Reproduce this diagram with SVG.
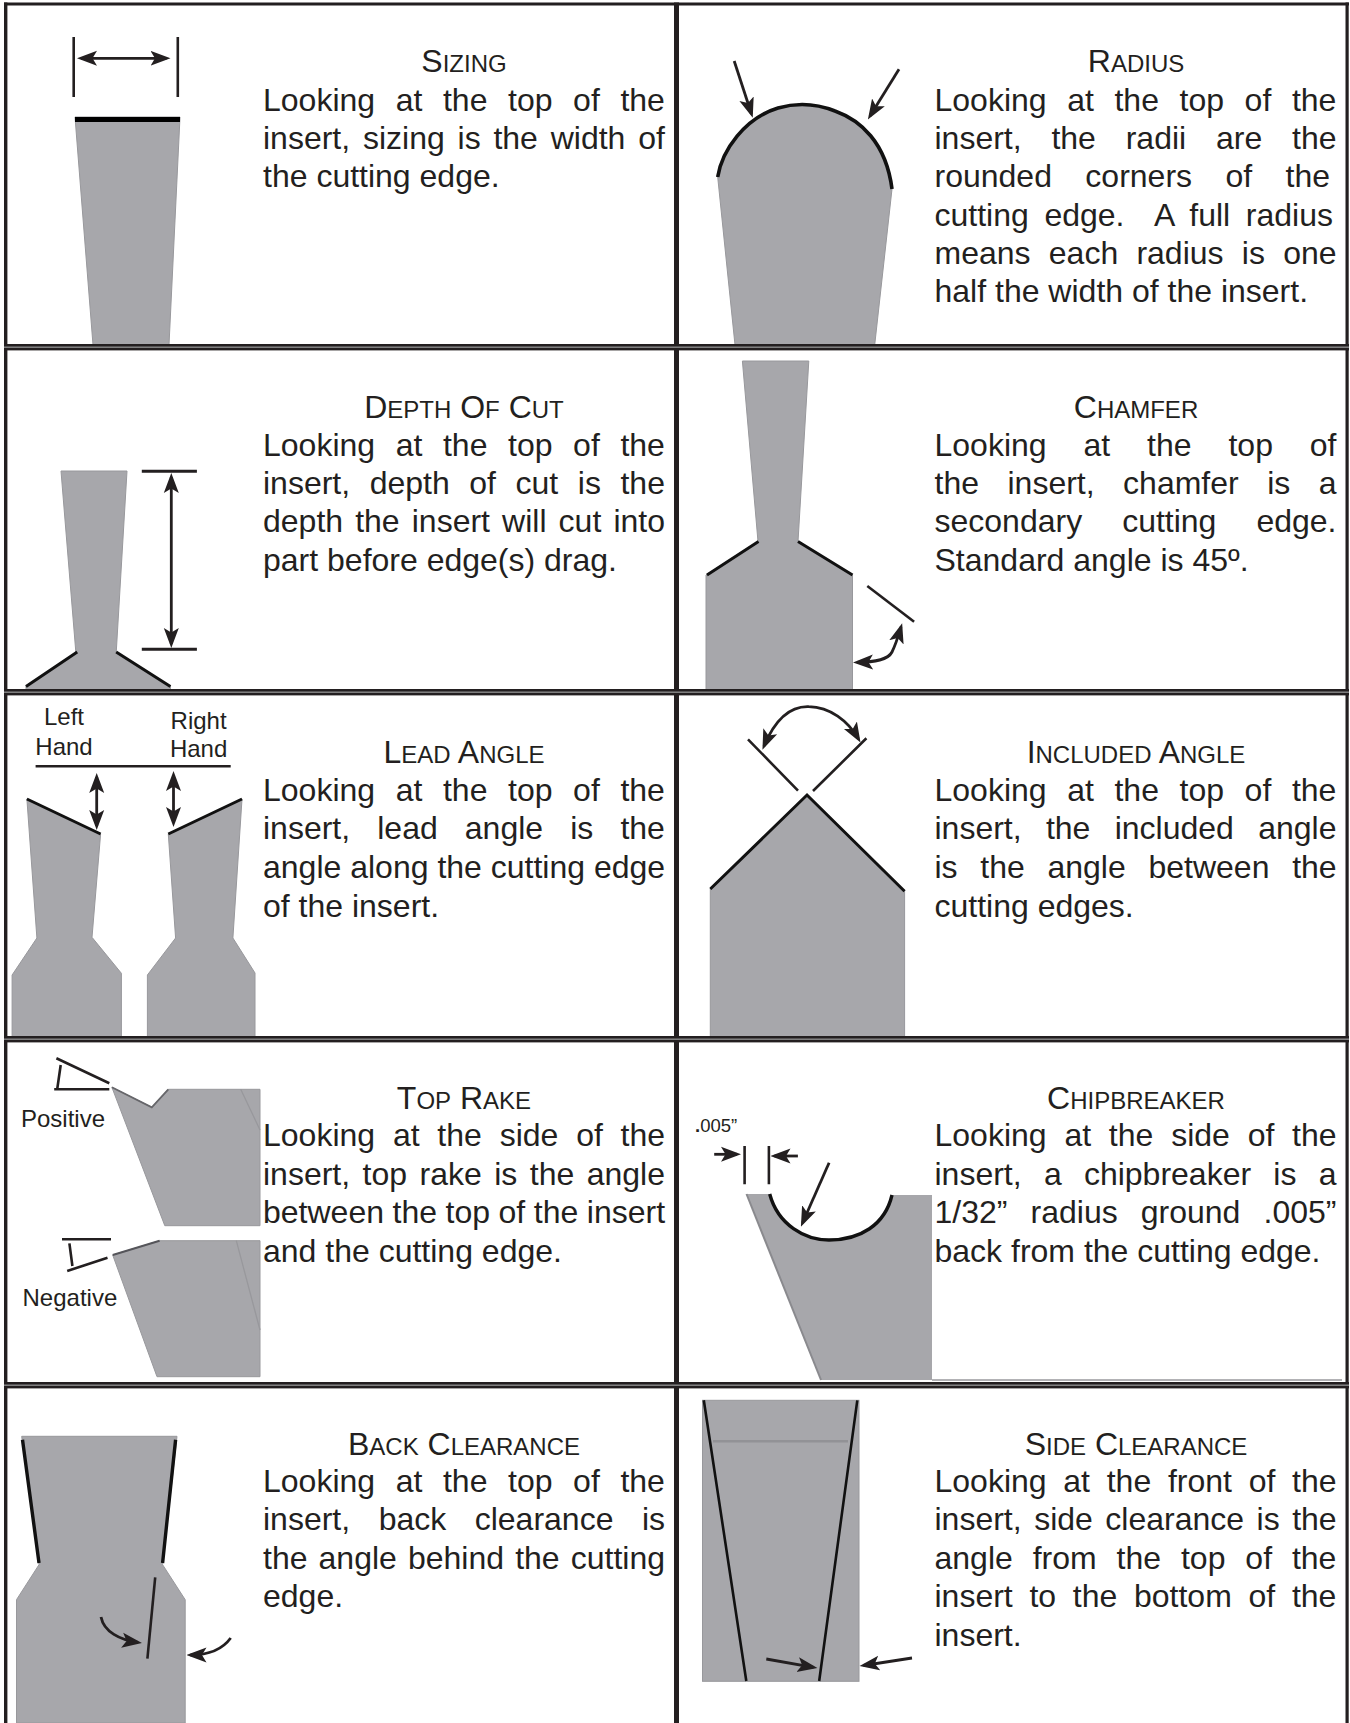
<svg xmlns="http://www.w3.org/2000/svg" width="1350" height="1723" viewBox="0 0 1350 1723">
<style>
text{font-family:"Liberation Sans",Arial,sans-serif;fill:#231f20}
.b{font-size:32px}
.h{font-size:32px;text-anchor:middle}
.sc{font-size:24px}
.l{font-size:24px}
.c{text-anchor:middle}
.ins{fill:#a7a7ab;stroke:#98989c;stroke-width:1}
.edge{fill:none;stroke:#111;stroke-width:3}
.dim{fill:none;stroke:#231f20;stroke-width:2.6}
.arr{fill:none;stroke:#231f20;stroke-width:2.8}
.me{marker-end:url(#ah)}
.ms{marker-start:url(#ah)}
.faint{fill:none;stroke:#98989c;stroke-width:1.3}
.g{fill:#231f20}
.gm{fill:#8a8a8a}
</style>
<defs>
<marker id="ah" markerUnits="userSpaceOnUse" markerWidth="20" markerHeight="17" viewBox="0 0 20 17" refX="16" refY="8.5" orient="auto-start-reverse">
<path d="M0 1 L20 8.5 L0 16 L4.5 8.5 Z" fill="#231f20"/>
</marker>
</defs>
<rect width="1350" height="1723" fill="#fff"/>

<g id="panel-sizing">
<polygon class="ins" points="75,117 180,117 169,345 93,345"/>
<rect x="75" y="117" width="105" height="5" fill="#000"/>
<text class="h" x="464" y="71.7">S<tspan class="sc">IZING</tspan></text>
<text class="b" x="263" y="110.7" word-spacing="11.7">Looking at the top of the</text>
<text class="b" x="263" y="148.7" word-spacing="3.9">insert, sizing is the width of</text>
<text class="b" x="263" y="187">the cutting edge.</text>
</g>

<g id="panel-radius">
<path class="ins" d="M717.7 177 C722 150 745 118 778 108 C795 103 815 103 835 111 C860 120 886 142 892 189 L874.7 345 L735 345 Z"/>
<path class="edge" style="stroke-width:3.6" d="M717.7 177 C722 150 745 118 778 108 C795 103 815 103 835 111 C860 120 886 142 892 189"/>
<text class="h" x="1136" y="71.7">R<tspan class="sc">ADIUS</tspan></text>
<text class="b" x="934.5" y="110.7" word-spacing="11.7">Looking at the top of the</text>
<text class="b" x="934.5" y="148.7" word-spacing="20.9">insert, the radii are the</text>
<text class="b" x="934.5" y="187" word-spacing="24.5">rounded corners of the</text>
<text class="b" x="934.5" y="225.5" word-spacing="6.76" xml:space="preserve">cutting edge.  A full radius</text>
<text class="b" x="934.5" y="264" word-spacing="9.35">means each radius is one</text>
<text class="b" x="934.5" y="302.3">half the width of the insert.</text>
</g>

<g id="panel-depth">
<polygon class="ins" points="61,471 127,471 116.2,653 170.4,686 170.4,692 26,692 26,686 75.9,653"/>
<path class="edge" d="M77.2 652 L26 686.5 M116.2 652 L170.4 686.5"/>
<text class="h" x="464" y="417.7">D<tspan class="sc">EPTH</tspan> O<tspan class="sc">F</tspan> C<tspan class="sc">UT</tspan></text>
<text class="b" x="263" y="455.7" word-spacing="11.7">Looking at the top of the</text>
<text class="b" x="263" y="494" word-spacing="10.66">insert, depth of cut is the</text>
<text class="b" x="263" y="532.3" word-spacing="3.2">depth the insert will cut into</text>
<text class="b" x="263" y="570.5">part before edge(s) drag.</text>
</g>

<g id="panel-chamfer">
<polygon class="ins" points="742.4,361 808.8,361 798,541.7 852.5,575 852.5,692 706,692 706,575 758,541.7"/>
<path class="edge" d="M758.5 541.5 L707 575 M798 541.5 L852.5 575"/>
<text class="h" x="1136" y="417.7">C<tspan class="sc">HAMFER</tspan></text>
<text class="b" x="934.5" y="455.7" word-spacing="28">Looking at the top of</text>
<text class="b" x="934.5" y="494" word-spacing="19.6">the insert, chamfer is a</text>
<text class="b" x="934.5" y="532.3" word-spacing="31.1">secondary cutting edge.</text>
<text class="b" x="934.5" y="570.5">Standard angle is 45º.</text>
</g>

<g id="panel-lead">
<polygon class="ins" points="26.9,799 100.6,834 92,937.3 121.4,973.3 121.4,1037 12.1,1037 12.1,975 36.9,938"/>
<polygon class="ins" points="242,799 168.3,834 175.6,938 147.4,975 147.4,1037 255,1037 255,973 232.9,938"/>
<path class="edge" d="M26.9 799 L100.6 834 M242 799 L168.3 834"/>
<text class="l c" x="64" y="725">Left</text>
<text class="l c" x="64" y="755">Hand</text>
<text class="l c" x="198.6" y="729">Right</text>
<text class="l c" x="198.6" y="756.7">Hand</text>
<text class="h" x="464" y="762.7">L<tspan class="sc">EAD</tspan> A<tspan class="sc">NGLE</tspan></text>
<text class="b" x="263" y="800.7" word-spacing="11.7">Looking at the top of the</text>
<text class="b" x="263" y="839" word-spacing="18.2">insert, lead angle is the</text>
<text class="b" x="263" y="878">angle along the cutting edge</text>
<text class="b" x="263" y="916.7">of the insert.</text>
</g>

<g id="panel-included">
<polygon class="ins" points="807,795 904.6,891.3 904.6,1037 710.3,1037 710.3,889"/>
<path class="edge" d="M710.3 889 L807 795 L904.6 891.3"/>
<text class="h" x="1136" y="762.7">I<tspan class="sc">NCLUDED</tspan> A<tspan class="sc">NGLE</tspan></text>
<text class="b" x="934.5" y="800.7" word-spacing="11.7">Looking at the top of the</text>
<text class="b" x="934.5" y="839" word-spacing="15.4">insert, the included angle</text>
<text class="b" x="934.5" y="878" word-spacing="13.8">is the angle between the</text>
<text class="b" x="934.5" y="916.7">cutting edges.</text>
</g>

<g id="panel-toprake">
<polygon class="ins" points="111.9,1087.3 151.8,1107.3 168.3,1089.3 260,1089.3 260,1225.7 164.8,1225.7"/>
<polygon class="ins" points="112.7,1255 159.6,1240.7 260,1240.7 260,1376.7 157,1376.7"/>
<path d="M111.9 1087.3 L151.8 1107.3 L168.3 1089.3" fill="none" stroke="#66666a" stroke-width="1.8"/>
<path d="M112.7 1255 L159.6 1240.7" fill="none" stroke="#55555a" stroke-width="2"/>
<path class="faint" d="M240.7 1089.3 L260 1130 M236.3 1240.7 L260 1330"/>
<text class="l" x="21" y="1127">Positive</text>
<text class="l" x="22.5" y="1306">Negative</text>
<text class="h" x="464" y="1108.7">T<tspan class="sc">OP</tspan> R<tspan class="sc">AKE</tspan></text>
<text class="b" x="263" y="1146" word-spacing="8.9">Looking at the side of the</text>
<text class="b" x="263" y="1185" word-spacing="3.56">insert, top rake is the angle</text>
<text class="b" x="263" y="1223.3" word-spacing="-0.36">between the top of the insert</text>
<text class="b" x="263" y="1262.3">and the cutting edge.</text>
</g>

<g id="panel-chipbreaker">
<path class="ins" style="stroke:none" d="M746.5 1194 L769.7 1194 C778 1225 805 1240 829 1240 C860 1240 885 1225 892 1195 L932 1195 L932 1380 L821 1380 Z"/>
<path d="M746.5 1194 L821 1380" fill="none" stroke="#8a8a8e" stroke-width="2"/>
<path class="edge" style="stroke-width:3.4" d="M769.7 1194 C778 1225 805 1240 829 1240 C860 1240 885 1225 892 1195"/>
<path class="faint" d="M932 1380 L1342 1380"/>
<text x="695" y="1131.7" font-size="18.5"><tspan font-weight="bold">.</tspan>005”</text>
<text class="h" x="1136" y="1108.7">C<tspan class="sc">HIPBREAKER</tspan></text>
<text class="b" x="934.5" y="1146" word-spacing="8.9">Looking at the side of the</text>
<text class="b" x="934.5" y="1185" word-spacing="13.35">insert, a chipbreaker is a</text>
<text class="b" x="934.5" y="1223.3" word-spacing="14.2">1/32” radius ground .005”</text>
<text class="b" x="934.5" y="1262.3">back from the cutting edge.</text>
</g>

<g id="panel-backclearance">
<polygon class="ins" points="21.7,1436.3 177,1436.3 162.6,1564.7 185.2,1599.7 185.2,1723 16.5,1723 16.5,1599.7 39,1564.7"/>
<path class="edge" style="stroke-width:3.4" d="M22.5 1439.7 L39 1563 M175.6 1439.7 L162.6 1563"/>
<text class="h" x="464" y="1454.7">B<tspan class="sc">ACK</tspan> C<tspan class="sc">LEARANCE</tspan></text>
<text class="b" x="263" y="1492.3" word-spacing="11.7">Looking at the top of the</text>
<text class="b" x="263" y="1530.3" word-spacing="19.6">insert, back clearance is</text>
<text class="b" x="263" y="1569" word-spacing="2.2">the angle behind the cutting</text>
<text class="b" x="263" y="1607.3">edge.</text>
</g>

<g id="panel-sideclearance">
<rect class="ins" x="702.5" y="1400.3" width="156.5" height="281"/>
<path d="M713 1441.3 L848 1441.3" fill="none" stroke="#929296" stroke-width="2.5"/>
<path class="edge" style="stroke-width:2.6" d="M703.8 1400.3 L746.3 1681 M857.3 1400.3 L819.2 1681"/>
<text class="h" x="1136" y="1454.7">S<tspan class="sc">IDE</tspan> C<tspan class="sc">LEARANCE</tspan></text>
<text class="b" x="934.5" y="1492.3" word-spacing="7.82">Looking at the front of the</text>
<text class="b" x="934.5" y="1530.3" word-spacing="3.6">insert, side clearance is the</text>
<text class="b" x="934.5" y="1569" word-spacing="11">angle from the top of the</text>
<text class="b" x="934.5" y="1607.3" word-spacing="7.8">insert to the bottom of the</text>
<text class="b" x="934.5" y="1646">insert.</text>
</g>

<g id="connectors">
<path class="dim" d="M73.7 37 V97 M177.8 37 V97"/>
<path class="arr me ms" d="M81 58.3 H166.5"/>
<path class="arr me" d="M734.2 61 L751.5 114"/>
<path class="arr me" d="M899 69.3 L870 116"/>
<path class="dim" style="stroke-width:3" d="M141.8 471.3 H196.9 M141.8 649.3 H196.9"/>
<path class="arr me ms" d="M171.3 477 V644"/>
<path class="dim" d="M867.3 586 L914.1 621.7"/>
<path class="arr me ms" d="M857 662.4 C875 662 888 660 892 652 C896 644 898 637 901 627"/>
<path class="dim" d="M35.6 766.3 H230.7"/>
<path class="arr me ms" d="M96.7 777 V826"/>
<path class="arr me ms" d="M173.5 775 V823"/>
<path class="dim" d="M748 739.3 L798 790.7 M866.4 738.3 L813 791"/>
<path class="arr me ms" d="M764 746 C775 720 790 706 808.8 706.7 C830 707 848 721 858.5 739"/>
<path class="dim" d="M56.4 1058.3 L109.3 1083.3 M60.7 1065 L57.2 1089.3 M54.2 1089.3 H109.3"/>
<path class="dim" d="M62 1239.3 H111 M69.4 1243.3 L72.4 1266 M67.2 1271 L107.5 1257.7"/>
<path class="dim" d="M744.6 1146 V1184.3 M768.9 1146 V1184.3"/>
<path class="arr me" d="M714.2 1154.3 H737"/>
<path class="arr me" d="M797.9 1156 H774.5"/>
<path class="arr me" d="M829.1 1162.7 L802.5 1223"/>
<path class="dim" d="M155.2 1577.3 L147.4 1658.7"/>
<path class="arr me" d="M101 1617 C104 1632 120 1640 138 1642.5"/>
<path class="arr me" d="M230.7 1638 C222 1650 208 1655 190.5 1655"/>
<path class="arr me" d="M766.3 1659 L813.5 1667.3"/>
<path class="arr me" d="M912 1658 L863.5 1665.5"/>
</g>

<g id="grid">
<rect class="g" x="4" y="2.5" width="1345" height="3"/>
<rect class="g" x="4" y="2.5" width="3.4" height="1720.5"/>
<rect class="g" x="1345.5" y="2.5" width="3.2" height="1720.5"/>
<rect class="g" x="674" y="2.5" width="5" height="1720.5"/>
<rect class="g" x="4" y="344" width="1345" height="6.4"/>
<rect class="gm" x="4" y="346.5" width="1345" height="1.4"/>
<rect class="g" x="4" y="689" width="1345" height="6.4"/>
<rect class="gm" x="4" y="691.5" width="1345" height="1.4"/>
<rect class="g" x="4" y="1036" width="1345" height="6.4"/>
<rect class="gm" x="4" y="1038.5" width="1345" height="1.4"/>
<rect class="g" x="4" y="1382" width="1345" height="6.4"/>
<rect class="gm" x="4" y="1384.5" width="1345" height="1.4"/>
</g>
</svg>
